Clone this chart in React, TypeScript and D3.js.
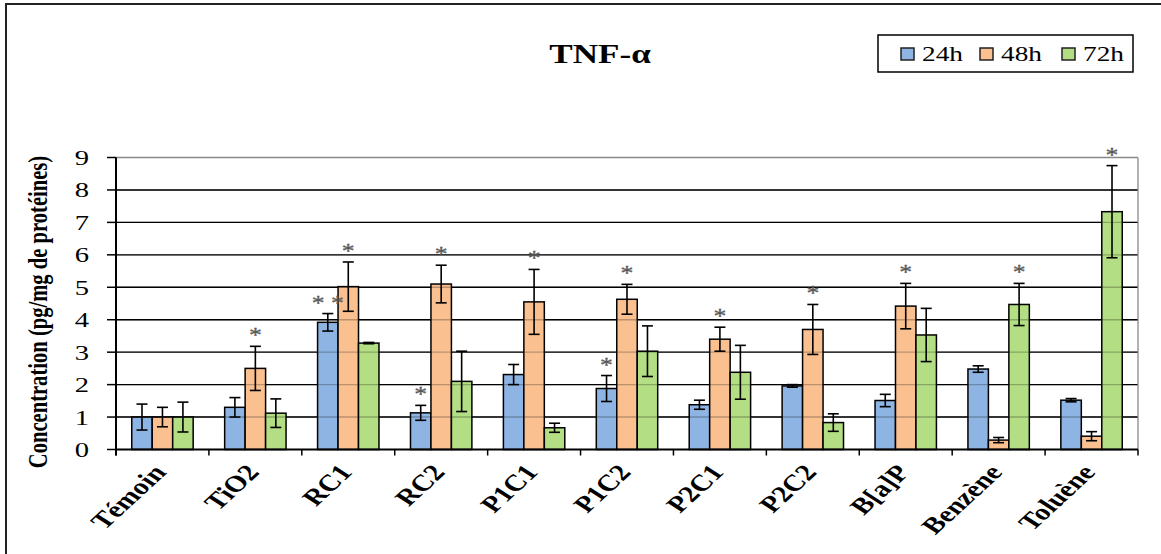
import React from "react";
import * as d3 from "d3";

const categories = ["Témoin", "TiO2", "RC1", "RC2", "P1C1", "P1C2", "P2C1", "P2C2", "B[a]P", "Benzène", "Toluène"];
const seriesNames = ["24h", "48h", "72h"];
const v24 = [1.0, 1.3, 3.92, 1.13, 2.31, 1.88, 1.38, 1.96, 1.51, 2.48, 1.52];
const e24 = [0.4, 0.3, 0.27, 0.23, 0.31, 0.4, 0.14, 0.04, 0.19, 0.1, 0.05];
const v48 = [1.0, 2.5, 5.02, 5.1, 4.55, 4.63, 3.4, 3.7, 4.42, 0.29, 0.41];
const e48 = [0.3, 0.68, 0.76, 0.58, 1.0, 0.46, 0.37, 0.77, 0.7, 0.08, 0.14];
const v72 = [1.0, 1.12, 3.28, 2.1, 0.67, 3.03, 2.38, 0.83, 3.53, 4.47, 7.33];
const e72 = [0.46, 0.44, 0.02, 0.93, 0.14, 0.78, 0.83, 0.27, 0.82, 0.65, 1.42];
const stars24 = ["", "", "* *", "*", "", "*", "", "", "", "", ""];
const stars48 = ["", "*", "*", "*", "*", "*", "*", "*", "*", "", ""];
const stars72 = ["", "", "", "", "", "", "", "", "", "*", "*"];
const yTicks = [0, 1, 2, 3, 4, 5, 6, 7, 8, 9];
const colors = ["#8EB4E3", "#FAC090", "#B3DE83"];

const values = [v24, v48, v72];
const errors = [e24, e48, e72];
const stars = [stars24, stars48, stars72];

const FONT = "'Liberation Serif', 'Times New Roman', serif";
const SX = 1.3;

export default function App() {
  const W = 1161, H = 554;
  const left = 116, right = 1138, top = 157.5, bottom = 449.5;
  const x = d3.scaleBand().domain(categories).range([left, right]).padding(0);
  const xs = d3.scaleBand().domain(seriesNames).range([0, x.bandwidth()]).paddingInner(0).paddingOuter(0.77);
  const y = d3.scaleLinear().domain([0, 9]).range([bottom, top]);
  const capW = 5.5;

  const bars: any[] = [];
  const errs: any[] = [];
  const starEls: any[] = [];
  categories.forEach((c, i) => {
    seriesNames.forEach((s, k) => {
      const v = values[k][i];
      const e = errors[k][i];
      const bx = (x(c) as number) + (xs(s) as number);
      const bw = xs.bandwidth();
      const cx = bx + bw / 2;
      bars.push(
        <rect key={`b${i}-${k}`} x={bx} y={y(v)} width={bw} height={y(0) - y(v)}
          fill={colors[k]} stroke="#000" strokeWidth={1.5} />
      );
      errs.push(
        <g key={`e${i}-${k}`} stroke="#000" strokeWidth={1.6}>
          <line x1={cx} x2={cx} y1={y(v + e)} y2={y(v - e)} />
          <line x1={cx - capW} x2={cx + capW} y1={y(v + e)} y2={y(v + e)} />
          <line x1={cx - capW} x2={cx + capW} y1={y(v - e)} y2={y(v - e)} />
        </g>
      );
      const st = stars[k][i];
      if (st) {
        starEls.push(
          <text key={`s${i}-${k}`} transform={`translate(${cx},${y(v + e) - 4}) scale(${SX * 0.9},1)`}
            textAnchor="middle" fontSize={22} fontFamily={FONT} fill="#666" stroke="#444" strokeWidth={0.3}>{st}</text>
        );
      }
    });
  });

  return (
    <svg width={W} height={H} style={{ position: "absolute", left: 0, top: 0, background: "#fff" }}>
      <rect x={0} y={0} width={W} height={H} fill="#fff" />
      <rect x={6} y={4} width={1300} height={700} fill="none" stroke="#222" strokeWidth={2} />

      {/* title */}
      <text transform={`translate(600,63) scale(${SX},1)`} textAnchor="middle" fontSize={27}
        fontWeight="bold" fontFamily={FONT} fill="#000">TNF-α</text>

      {/* legend */}
      <rect x={878} y={35} width={255} height={37} fill="#fff" stroke="#000" strokeWidth={1.5} />
      {seriesNames.map((s, k) => {
        const lx = [901, 980, 1062][k];
        return (
          <g key={s}>
            <rect x={lx} y={48} width={13} height={12} fill={colors[k]} stroke="#222" strokeWidth={1.5} />
            <text transform={`translate(${lx + 21},61) scale(${SX},1)`} fontSize={21} fontFamily={FONT} fill="#000">{s}</text>
          </g>
        );
      })}

      {/* gridlines */}
      {yTicks.filter(t => t > 0 && t < 9).map(t => (
        <line key={`g${t}`} x1={left} x2={right} y1={y(t)} y2={y(t)} stroke="#000" strokeWidth={1.4} />
      ))}
      <line x1={left} x2={right} y1={y(9)} y2={y(9)} stroke="#888" strokeWidth={1.5} />
      <line x1={right} x2={right} y1={y(9)} y2={bottom} stroke="#999" strokeWidth={1.5} />

      {bars}
      {/* gridlines showing through bars */}
      {yTicks.filter(t => t > 0 && t < 9).map(t => (
        <line key={`go${t}`} x1={left} x2={right} y1={y(t)} y2={y(t)} stroke="#000" strokeOpacity={0.25} strokeWidth={1.4} />
      ))}
      {errs}
      {starEls}

      {/* y axis */}
      <line x1={left} x2={left} y1={top} y2={bottom + 6} stroke="#000" strokeWidth={2} />
      {yTicks.map(t => (
        <g key={`yt${t}`}>
          <line x1={left - 9} x2={left} y1={y(t)} y2={y(t)} stroke="#000" strokeWidth={1.5} />
          <text transform={`translate(89,${y(t)}) scale(${SX},1)`} textAnchor="end" dy="0.34em"
            fontSize={22} fontFamily={FONT} fill="#000">{t}</text>
        </g>
      ))}
      <text transform={`translate(47,312) scale(${SX},1) rotate(-90)`} textAnchor="middle" fontSize={20.6}
        fontWeight="bold" fontFamily={FONT} fill="#000">Concentration (pg/mg de protéines)</text>

      {/* x axis */}
      <line x1={left} x2={right} y1={bottom} y2={bottom} stroke="#000" strokeWidth={2} />
      {categories.map((c, i) => (
        <line key={`xt${i}`} x1={x(c) as number} x2={x(c) as number} y1={bottom} y2={bottom + 6} stroke="#000" strokeWidth={1.5} />
      ))}
      <line x1={right} x2={right} y1={bottom} y2={bottom + 6} stroke="#000" strokeWidth={1.5} />
      {categories.map(c => {
        const cx = (x(c) as number) + x.bandwidth() / 2;
        return (
          <text key={`xl${c}`} transform={`translate(${cx + 5},473) scale(${SX},1) rotate(-50)`} textAnchor="end"
            fontSize={23} fontWeight="bold" fontFamily={FONT} fill="#000">{c}</text>
        );
      })}
    </svg>
  );
}
